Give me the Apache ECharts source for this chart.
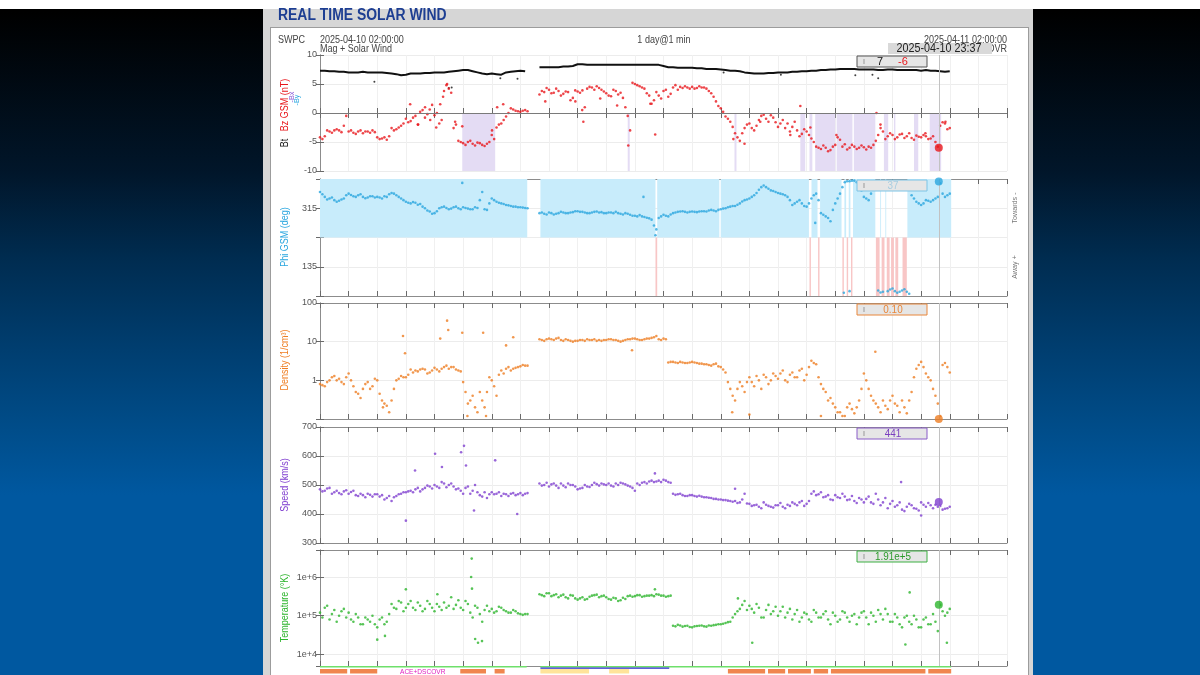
<!DOCTYPE html>
<html>
<head>
<meta charset="utf-8">
<script src="https://cdn.jsdelivr.net/npm/echarts@6/dist/echarts.min.js"></script>
<style>
html, body { margin: 0; padding: 0; width: 1200px; height: 675px; overflow: hidden; background: #000; }
body { position: relative; }
#bg { position: absolute; left: 0; top: 0; width: 1200px; height: 675px;
    background-image: linear-gradient(180deg, rgb(0,0,0) 0px, rgb(0,0,0) 12px, rgb(1,22,42) 172px, rgb(0,44,80) 258px, rgb(0,61,110) 344px, rgb(0,77,138) 430px, rgb(0,88,160) 495px, rgb(0,88,160) 675px); }
#topbar { position: absolute; left: 0; top: 0; width: 1200px; height: 9px; background: #fff; }
#panel { position: absolute; left: 263px; top: 9px; width: 770px; height: 666px; background: #d6d6d6; }
#sheet { position: absolute; left: 270px; top: 27px; width: 757px; height: 660px; background: #fff; border: 1px solid #9c9c9c; }
#chart { position: absolute; left: 0; top: 0; width: 1200px; height: 675px; }
</style>
</head>
<body>
<div id="bg"></div>
<div id="topbar"></div>
<div id="panel"></div>
<div id="sheet"></div>
<div id="chart"></div>
<script>
// samples every 10 minutes starting 2025-04-10 02:00 (x axis in hours from 02:00),
// *Mid arrays hold the samples 5 minutes later
const nowHour = 21.617 // 23:37
const btVals = [
    7.3, 7.3, 7.2, 7.2, 7.1, 7.1,
    7.0, 7.0, 7.0, 7.1, 7.0, 7.0,
    7.0, 7.0, 6.9, 6.8, 6.7, 6.5,
    6.6, 6.8, 6.8, 6.8, 6.9, 6.9,
    7.0, 7.0, 7.0, 7.1, 7.2, 7.3,
    7.4, 7.4, 7.2, 7.0, 6.8, 6.7,
    6.8, 6.7, 6.6, 7.0, 7.1, 7.2,
    7.3, 7.2, null, null, 7.9, 7.9,
    7.9, 7.9, 7.9, 8.0, 8.0, 8.1,
    8.4, 8.4, 8.3, 8.3, 8.3, 8.3,
    8.3, 8.3, 8.3, 8.3, 8.3, 8.3,
    8.3, 8.3, 8.3, 8.3, 8.3, 8.3,
    8.1, 7.9, 7.9, 7.8, 7.8, 7.8,
    7.8, 7.7, 7.7, 7.6, 7.6, 7.6,
    7.5, 7.4, 7.3, 7.3, 7.2, 7.0,
    6.9, 6.8, 6.8, 6.8, 6.9, 6.9,
    7.0, 7.0, 7.0, 7.1, 7.1, 7.2,
    7.2, 7.3, 7.3, 7.4, 7.4, 7.5,
    7.5, 7.6, 7.6, 7.6, 7.6, 7.5,
    7.5, 7.5, 7.5, 7.4, 7.4, 7.5,
    7.5, 7.4, 7.4, 7.4, 7.4, 7.4,
    7.3, 7.4, 7.3, 7.3, 7.2, 7.1,
    7.2
]
const btExtra = [[1.9, 5.4], [4.5, 4.3], [4.6, 4.4], [6.3, 6.0], [6.9, 5.9], [14.1, 7.0], [16.1, 6.6], [18.7, 6.5], [19.3, 6.6], [19.5, 6.0]]
const bzVals = [
    -4.2, -4.0, -3.2, -3.0, -3.0, -2.2,
    -3.2, -3.4, -3.2, -3.5, -3.2, -3.0,
    -4.2, -4.4, -4.6, -2.6, -2.8, -2.2,
    -1.0, -1.4, -0.5, 0.2, -0.8, 0.6,
    -0.4, -1.8, 3.8, 4.2, -2.6, -4.8,
    -5.2, -5.0, -5.3, -5.1, -5.5, -5.3,
    -3.8, -2.5, -1.8, -0.6, 0.8, 0.4,
    0.2, 0.5, null, null, 3.2, 3.6,
    4.0, 3.5, 3.8, 3.3, 3.6, 2.6,
    3.7, 3.9, 4.2, 4.4, 4.6, 4.0,
    3.4, 2.9, 3.8, 3.5, 1.0, -3.0,
    5.0, 4.6, 4.2, 3.0, 2.2, 3.0,
    3.8, 2.8, 4.4, 4.0, 4.3, 4.4,
    4.5, 4.3, 4.4, 4.2, 3.4, 2.0,
    0.8, -0.6, -1.5, -3.5, -4.8, -2.6,
    -1.8, -3.0, -1.2, -0.3, -1.5, -0.8,
    -2.4, -1.2, -1.8, -2.4, -3.0, -3.6,
    -3.2, -4.4, -5.8, -6.2, -6.0, -6.4,
    -5.5, -4.6, -5.4, -6.0, -5.8, -6.0,
    -5.9, -5.8, -5.5, -3.8, -3.2, -4.0,
    -3.8, -4.2, -3.6, -4.0, -4.3, -3.9,
    -4.2, -4.0, -4.4, -5.0, -2.2, -1.8,
    -2.6
]
const bzMid = [
    -4.5, -3.0, -3.4, -2.8, -3.3, -0.5,
    -3.0, -3.6, -3.0, -3.2, -3.4, -3.3,
    -4.5, -4.2, -4.0, -3.0, -2.5, -1.8,
    -1.6, -0.8, -2.0, 0.5, -0.2, 1.4,
    0.0, -1.2, 4.8, 3.5, -2.0, -5.0,
    -5.5, -4.8, -5.6, -5.2, -5.7, -5.0,
    -4.5, -2.0, -1.2, 0.0, 0.6, 0.3,
    0.4, 0.3, null, null, 3.8, 4.3,
    3.4, 4.2, 3.0, 3.7, 2.2, 3.9,
    3.5, 1.0, 4.5, 4.0, 4.3, 3.7,
    3.0, 4.0, 3.2, 2.6, -0.5, 5.2,
    4.8, 4.4, 3.4, 1.6, 3.6, 2.5,
    4.0, 3.3, 4.8, 4.5, 4.6, 4.2,
    4.2, 4.6, 4.4, 3.8, 2.8, 1.2,
    0.2, -1.0, -2.4, -4.2, -3.5, -2.0,
    -2.6, -2.2, -0.5, -1.0, -0.4, -1.6,
    -1.8, -2.6, -3.2, -1.5, -4.0, -2.8,
    -3.8, -5.0, -6.0, -5.6, -6.6, -5.8,
    -4.2, -5.8, -6.3, -5.5, -6.2, -5.6,
    -6.3, -6.0, -4.8, -2.6, -4.5, -3.5,
    -4.5, -3.7, -4.3, -3.5, -4.6, -4.1,
    -3.8, -4.5, -4.0, -5.8, -1.6, -2.8
]
const bzExtra = [
    [4.44, 5.0], [4.30, 2.8], [4.06, -2.5], [4.20, 1.5], [3.67, 1.0], [3.43, -2.0], [3.15, 1.5],
    [3.85, -1.2], [4.72, -1.5], [4.97, -2.3], [6.19, 1.0], [6.01, -3.0], [6.40, 1.5], [7.87, 2.0],
    [8.92, 2.0], [9.16, 0.5], [9.20, -1.5], [9.79, 2.5], [10.38, 1.3], [10.77, -5.6], [11.71, -3.7],
    [11.54, 1.6], [14.44, -4.5], [14.83, -5.3], [15.38, -1.5], [16.43, -3.8], [16.78, 1.2],
    [17.13, -2.5], [19.44, 0.0], [19.58, -2.0], [18.04, -3.8], [21.15, -3.5], [21.85, -1.5]
]
const bzShade = [
    [4.97, 6.12], [10.75, 10.82], [14.48, 14.55], [16.78, 16.95], [17.1, 17.2], [17.3, 18.0],
    [18.05, 18.6], [18.65, 19.4], [19.7, 19.85], [20.05, 20.1], [20.75, 20.9], [21.3, 21.7]
]
const phiVals = [
    365, 350, 345, 340, 338, 345,
    360, 352, 355, 350, 348, 352,
    350, 345, 350, 362, 355, 345,
    335, 330, 332, 328, 315, 305,
    300, 315, 320, 312, 318, 315,
    318, 314, 312, 316, 365, 310,
    345, 335, 330, 325, 322, 320,
    318, 316, null, null, 300, 298,
    302, 296, 300, 302, 300, 303,
    306, 304, 300, 302, 305, 303,
    300, 302, 304, 298, 300, 295,
    292, 294, 288, 284, 262, 285,
    295, 290, 300, 304, 306, 302,
    305, 303, 306, 305, 310, 306,
    312, 315, 320, 322, 330, 340,
    345, 355, 372, 385, 375, 368,
    362, 358, 350, 325, 335, 330,
    320, 345, 360, 300, 290, 275,
    330, 360, 395, 398, 400, 385,
    350, 340, 380, 62, 58, 60,
    68, 55, 62, 58, 355, 335,
    325, 340, 335, 345, 392, 350,
    360
]
const phiMid = [
    358, 342, 348, 335, 342, 355,
    356, 350, 358, 346, 352, 348,
    348, 352, 358, 360, 350, 340,
    332, 334, 326, 320, 308, 298,
    306, 318, 316, 314, 320, 312,
    316, 312, 318, 340, 312, 330,
    340, 332, 328, 324, 320, 318,
    317, 315, null, null, 302, 296,
    300, 298, 304, 300, 302, 306,
    304, 302, 300, 304, 302, 300,
    302, 300, 300, 296, 298, 292,
    290, 290, 286, 280, 250, 290,
    292, 296, 302, 305, 304, 304,
    304, 305, 306, 308, 308, 310,
    314, 318, 322, 326, 336, 342,
    350, 362, 380, 380, 370, 365,
    360, 355, 340, 330, 340, 322,
    330, 355, 340, 295, 285, 310,
    345, 380, 398, 400, 395, 370,
    345, 360, 395, 56, 392, 65,
    60, 58, 66, 52, 345, 330,
    330, 338, 340, 350, 360, 355
]
const phiExtra = [
    [11.72, 232], [4.97, 393], [11.3, 350], [17.3, 270], [19.8, 395], [20.3, 390], [18.3, 55], [18.5, 60]
]
const towardsBands = [
    [0, 7.24], [7.7, 11.72], [11.78, 13.95], [14.0, 17.08], [17.17, 17.38], [17.47, 18.22],
    [18.32, 18.38], [18.47, 18.53], [18.62, 19.4], [19.57, 19.6], [19.75, 19.78], [20.52, 22.05]
]
const awayBands = [
    [11.72, 11.78], [17.1, 17.15], [17.4, 17.45], [18.25, 18.3], [18.4, 18.45], [18.55, 18.6],
    [19.42, 19.55], [19.62, 19.72], [19.8, 19.9], [19.95, 20.05], [20.1, 20.2], [20.35, 20.5]
]
const densVals = [
    0.8, 0.7, 1.0, 1.3, 1.1, 0.8,
    1.5, 0.7, 0.45, 0.6, 0.9, 0.7,
    1.0, 0.3, 0.22, 0.3, 1.0, 1.3,
    1.2, 1.9, 1.8, 1.9, 1.9, 1.6,
    2.1, 1.7, 2.2, 2.0, 2.2, 1.8,
    0.9, 0.25, 0.4, 0.15, 0.3, 0.5,
    1.0, 0.4, 1.8, 2.0, 1.8, 2.1,
    2.3, 2.4, null, null, 11.5, 10.5,
    12.0, 11.0, 12.5, 10.5, 11.0, 10.0,
    10.5, 11.0, 11.5, 11.0, 10.5, 10.5,
    11.0, 11.5, 11.0, 10.0, 11.0, 11.5,
    12.0, 11.0, 11.5, 12.0, 13.0, 11.5,
    12.0, 2.9, 3.0, 2.8, 2.9, 2.8,
    3.0, 2.8, 2.7, 2.6, 2.4, 2.7,
    2.2, 1.6, 0.6, 0.3, 0.9, 0.5,
    1.2, 0.7, 1.0, 1.4, 0.8, 1.5,
    1.1, 1.8, 0.9, 1.6, 1.2, 2.0,
    1.4, 3.2, 2.6, 0.8, 0.5, 0.35,
    0.2, 0.15, 0.12, 0.25, 0.14, 0.3,
    1.5, 0.6, 0.3, 0.2, 0.3, 0.18,
    0.4, 0.22, 0.3, 0.14, 0.5, 2.0,
    3.0, 1.5, 1.0, 0.4, 0.12, 2.8,
    1.6
]
const densMid = [
    0.75, 0.9, 1.2, 1.0, 0.9, 1.2,
    1.0, 0.5, 0.35, 0.8, 0.6, 1.1,
    0.45, 0.25, 0.15, 0.6, 1.1, 1.2,
    1.4, 1.6, 1.7, 2.0, 1.5, 1.8,
    1.9, 2.0, 2.4, 2.2, 1.9, 1.7,
    0.5, 0.3, 0.2, 0.5, 0.2, 1.2,
    0.7, 1.4, 1.5, 2.2, 2.0, 2.2,
    2.5, 2.4, null, null, 11.0, 11.5,
    11.5, 12.0, 11.0, 11.5, 10.5, 10.5,
    11.0, 10.5, 11.0, 11.5, 11.0, 11.0,
    11.5, 11.0, 10.5, 10.5, 11.5, 12.0,
    11.5, 11.0, 12.0, 12.5, 14.0, 11.0,
    11.5, 3.0, 2.9, 3.0, 2.8, 2.9,
    2.9, 2.7, 2.6, 2.5, 2.6, 2.3,
    1.9, 0.9, 0.4, 0.6, 0.7, 0.9,
    0.9, 1.3, 0.6, 1.2, 1.0, 1.3,
    1.5, 1.0, 1.4, 1.2, 1.8, 1.0,
    2.2, 2.8, 1.2, 0.6, 0.3, 0.25,
    0.15, 0.12, 0.2, 0.18, 0.2, 0.6,
    1.0, 0.4, 0.25, 0.15, 0.22, 0.3,
    0.25, 0.15, 0.2, 0.3, 1.2, 2.5,
    2.2, 1.2, 0.6, 0.25, 2.5, 2.2
]
const densExtra = [
    [2.90, 14], [2.97, 5], [4.44, 35], [4.48, 20], [4.97, 17], [5.7, 17], [4.2, 12], [6.5, 8],
    [6.75, 13], [5.8, 0.12], [5.15, 0.12], [2.2, 0.2], [19.4, 5.5], [14.4, 0.15], [15.0, 0.13],
    [17.5, 0.12], [10.9, 6]
]
const speedVals = [
    485, 480, 490, 475, 472, 478,
    470, 480, 462, 465, 470, 460,
    468, 465, 455, 445, 462, 470,
    475, 480, 485, 478, 490, 495,
    500, 490, 505, 500, 495, 488,
    470, 495, 480, 475, 460, 455,
    475, 470, 462, 468, 470, 465,
    472, 470, null, null, 505, 500,
    495, 505, 490, 498, 505, 500,
    485, 490, 495, 500, 503, 505,
    500, 498, 505, 508, 502, 495,
    480, 500, 510, 512, 510, 515,
    518, 510, 470, 468, 465, 462,
    465, 460, 460, 458, 455, 452,
    450, 448, 445, 445, 440, 470,
    435, 430, 425, 440, 428, 422,
    430, 425, 432, 440, 430, 445,
    435, 470, 465, 475, 460, 450,
    465, 455, 460, 450, 445, 455,
    440, 460, 435, 450, 440, 420,
    445, 430, 415, 425, 430, 418,
    440, 425, 430, 432, 428, 418,
    425
]
const speedMid = [
    478, 488, 470, 480, 468, 482,
    476, 465, 470, 458, 466, 468,
    460, 450, 462, 458, 468, 475,
    478, 475, 490, 485, 498, 488,
    495, 510, 492, 505, 485, 480,
    490, 470, 500, 465, 475, 468,
    468, 475, 470, 462, 472, 468,
    465, 472, null, null, 498, 508,
    502, 498, 505, 492, 500, 495,
    488, 500, 493, 508, 498, 502,
    505, 495, 500, 505, 498, 490,
    505, 508, 505, 515, 512, 510,
    515, 508, 466, 470, 462, 465,
    462, 463, 458, 456, 452, 450,
    448, 446, 442, 438, 450, 436,
    428, 432, 420, 432, 425, 430,
    438, 420, 428, 435, 440, 428,
    445, 478, 468, 458, 465, 448,
    458, 470, 448, 462, 438, 450,
    452, 440, 470, 430, 455, 435,
    425, 440, 410, 435, 420, 412,
    432, 438, 420, 425, 415, 420
]
const speedExtra = [
    [3.0, 377], [3.32, 550], [4.02, 608], [4.26, 562], [4.93, 613], [5.03, 635], [5.1, 567],
    [5.38, 412], [6.12, 585], [6.89, 400], [11.7, 540], [20.3, 510], [14.5, 487], [21.0, 395]
]
const tempVals = [
    1.2e5, 1.6e5, 8e4, 1.4e5, 1.0e5, 1.5e5,
    1.2e5, 7e4, 9e4, 6e4, 8e4, 1.0e5,
    5e4, 9e4, 7e4, 2.0e5, 1.5e5, 2.2e5,
    1.6e5, 2.4e5, 1.4e5, 1.8e5, 1.5e5, 2.0e5,
    1.3e5, 1.7e5, 2.2e5, 1.8e5, 1.5e5, 2.5e5,
    1.4e5, 2.0e5, 9e4, 1.6e5, 7e4, 1.8e5,
    1.5e5, 1.3e5, 1.6e5, 1.3e5, 1.2e5, 1.3e5,
    1.1e5, 1.1e5, null, null, 3.6e5, 3.2e5,
    3.8e5, 3.4e5, 3.0e5, 3.5e5, 2.8e5, 3.3e5,
    2.6e5, 3.0e5, 2.7e5, 3.3e5, 3.5e5, 3.2e5,
    3.0e5, 2.6e5, 2.8e5, 2.5e5, 2.7e5, 3.3e5,
    3.2e5, 3.4e5, 3.2e5, 3.3e5, 3.2e5, 3.5e5,
    3.3e5, 3.2e5, 5.5e4, 5.8e4, 5.2e4, 5.5e4,
    5.0e4, 5.4e4, 5.6e4, 5.2e4, 5.5e4, 5.8e4,
    6.0e4, 6.5e4, 7e4, 1.1e5, 1.5e5, 2.4e5,
    1.8e5, 1.2e5, 1.6e5, 9e4, 1.9e5, 1.3e5,
    1.0e5, 1.7e5, 1.2e5, 8e4, 1.4e5, 9e4,
    1.1e5, 7e4, 1.2e5, 9e4, 1.3e5, 6e4,
    1.0e5, 8e4, 1.2e5, 7e4, 1.1e5, 9e4,
    1.3e5, 6e4, 1.0e5, 1.4e5, 8e4, 1.1e5,
    7e4, 9e4, 5e4, 1.0e5, 6e4, 8e4,
    5e4, 9e4, 6e4, 7e4, 1.9e5, 1.0e5,
    1.5e5
]
const tempMid = [
    9e4, 1.8e5, 1.1e5, 7e4, 1.3e5, 9e4,
    8e4, 1.1e5, 6e4, 9e4, 7e4, 6e4,
    8e4, 6e4, 1.1e5, 1.6e5, 2.4e5, 1.3e5,
    2.0e5, 1.6e5, 2.2e5, 1.3e5, 2.4e5, 1.6e5,
    2.0e5, 1.4e5, 1.6e5, 3.0e5, 1.9e5, 1.6e5,
    2.4e5, 1.2e5, 1.8e5, 1.1e5, 1.4e5, 1.3e5,
    1.2e5, 1.7e5, 1.4e5, 1.2e5, 1.4e5, 1.15e5,
    1.05e5, 1.1e5, null, null, 3.4e5, 3.8e5,
    3.2e5, 3.6e5, 3.3e5, 3.0e5, 3.4e5, 2.8e5,
    2.8e5, 2.6e5, 3.1e5, 3.4e5, 3.0e5, 3.3e5,
    2.7e5, 2.9e5, 2.4e5, 2.9e5, 3.2e5, 3.1e5,
    3.4e5, 3.1e5, 3.3e5, 3.4e5, 3.6e5, 3.3e5,
    3.1e5, 3.3e5, 5.3e4, 5.6e4, 5.4e4, 5.1e4,
    5.3e4, 5.5e4, 5.3e4, 5.6e4, 5.7e4, 6.0e4,
    6.2e4, 6.8e4, 9e4, 1.3e5, 1.9e5, 1.4e5,
    1.5e5, 2.0e5, 9e4, 1.4e5, 1.1e5, 1.7e5,
    1.3e5, 9e4, 1.5e5, 1.1e5, 7e4, 1.2e5,
    8e4, 1.4e5, 9e4, 1.1e5, 8e4, 1.2e5,
    7e4, 1.3e5, 9e4, 1.0e5, 6e4, 1.2e5,
    9e4, 1.2e5, 7e4, 1.1e5, 1.5e5, 7e4,
    1.1e5, 6e4, 9e4, 7e4, 1.0e5, 5e4,
    8e4, 6e4, 1.1e5, 4e4, 1.3e5, 1.2e5
]
const tempExtra = [
    [5.28, 1e6], [5.31, 5e5], [5.3, 3e6], [3.0, 4.8e5], [4.1, 3.6e5], [5.42, 2.5e4], [5.52, 2e4],
    [5.66, 2.2e4], [2.0, 2.4e4], [2.27, 3e4], [11.7, 4.8e5], [20.6, 4e5], [20.45, 1.8e4],
    [21.9, 2e4], [15.1, 2e4], [14.6, 2.8e5]
]
// current readings at 23:37
const nowBt = 7
const nowBz = -6
const nowPhi = 37
const nowDens = 0.10
const nowSpeed = 441
const nowTemp = 1.91e5
const nowLabels = ['37', '0.10', '441', '1.91e+5']
// source / status strip under the plots
const stripGreen = [[0, 7.22], [7.7, 22.05]]
const stripBlue = [[7.7, 12.2]]
const stripOrange = [[0, 0.95], [1.05, 2.0], [4.9, 5.8], [6.1, 6.45], [14.25, 15.55], [15.65, 16.25],
    [16.35, 17.15], [17.25, 17.75], [17.85, 21.15], [21.25, 22.05]]
const stripYellow = [[7.7, 9.4], [10.1, 10.8]]

const colors = {
    bt: '#111111', bz: '#e8161b', phi: '#2aa6df', dens: '#ee7d22', speed: '#8040d0', temp: '#2db52d'
}
const fontFam = "'Liberation Sans', Arial, sans-serif"
const gridTops = [55, 179, 303, 427, 550, 666]
const gridHeights = [116, 117, 116, 116, 116, 12]
const dotSize = 2.6

function pairs(vals, offset) {
    const out = []
    vals.forEach((v, i) => { if (v !== null) out.push([i / 6 + (offset || 0), v]) })
    return out
}
function isDecade(v) {
    const e = Math.log10(v)
    return Math.abs(e - Math.round(e)) < 1e-6
}
function bands(list, y0, y1, color) {
    return list.map(([a, b]) => [{ xAxis: a, yAxis: y0, itemStyle: { color: color } }, { xAxis: b, yAxis: y1 }])
}
const nowLine = {
    symbol: 'none', silent: true, label: { show: false },
    lineStyle: { color: '#c2c2c2', width: 1, type: 'solid' },
    data: [{ xAxis: nowHour }]
}

let chart = echarts.init(document.getElementById('chart'))

const grids = gridTops.map((t, i) => ({ left: 320, width: 687, top: t, height: gridHeights[i] }))
const xAxes = []
gridTops.forEach((t, i) => {
    const base = {
        gridIndex: i, type: 'value', min: 0, max: 24, interval: 1, show: i !== 5,
        axisLine: { lineStyle: { color: '#8c8c8c' } },
        axisTick: { inside: true, length: 5, lineStyle: { color: '#6a6a6a' } },
        axisLabel: { show: false }
    }
    xAxes.push(Object.assign({}, base, { position: 'bottom', splitLine: { show: true, lineStyle: { color: '#f0f0f0' } } }))
    xAxes.push(Object.assign({}, base, { position: 'top', splitLine: { show: false } }))
})
const labelStyle = { fontSize: 9, color: '#555', margin: 3, fontFamily: fontFam }
const leftY = [
    { type: 'value', min: -10, max: 10, interval: 5 },
    { type: 'value', min: 45, max: 405, interval: 90, axisLabel: Object.assign({}, labelStyle, { formatter: v => (v === 135 || v === 315) ? String(v) : '' }) },
    { type: 'log', min: 0.1, max: 100, logBase: 10, axisLabel: Object.assign({}, labelStyle, { formatter: v => (isDecade(v) && v >= 1) ? String(Math.round(v)) : '' }) },
    { type: 'value', min: 300, max: 700, interval: 100 },
    { type: 'log', min: 5000, max: 5000000, logBase: 10, splitNumber: 3, axisLabel: Object.assign({}, labelStyle, { formatter: v => isDecade(v) ? '1e+' + Math.round(Math.log10(v)) : '' }) },
    { type: 'value', min: 0, max: 12, show: false }
]
const yAxes = []
leftY.forEach((cfg, i) => {
    yAxes.push(Object.assign({
        gridIndex: i, position: 'left',
        axisLine: { show: true, lineStyle: { color: '#8c8c8c' } },
        axisTick: { show: true, inside: true, length: 4, lineStyle: { color: '#6a6a6a' } },
        axisLabel: labelStyle,
        splitLine: { show: true, lineStyle: { color: '#ececec' } }
    }, cfg))
    yAxes.push(Object.assign({}, cfg, {
        gridIndex: i, position: 'right',
        axisLine: { show: true, lineStyle: { color: '#8c8c8c' } },
        axisTick: { show: true, inside: true, length: 4, lineStyle: { color: '#6a6a6a' } },
        axisLabel: { show: false }, splitLine: { show: false }
    }))
})

function ax(i) { return { xAxisIndex: 2 * i, yAxisIndex: 2 * i } }
function dots(i, data, color, size) {
    return Object.assign({ type: 'scatter', data: data, symbolSize: size || dotSize, itemStyle: { color: color }, silent: true, z: 4 }, ax(i))
}
function nowDot(i, v, color) {
    return Object.assign({ type: 'scatter', data: [[nowHour, v]], symbolSize: 8, itemStyle: { color: color }, silent: true, z: 5 }, ax(i))
}

const series = [
    // panel 1: Bt / Bz
    Object.assign({
        type: 'line', data: [], z: 1,
        markArea: { silent: true, data: bands(bzShade, 0, -10, '#e4dcf4') },
        markLine: {
            symbol: 'none', silent: true, label: { show: false },
            data: [{ yAxis: 0, lineStyle: { color: '#7a7a7a', width: 1, type: 'solid' } },
                { xAxis: nowHour, lineStyle: { color: '#c2c2c2', width: 1, type: 'solid' } }]
        }
    }, ax(0)),
    Object.assign({
        type: 'line', data: btVals.map((v, i) => [i / 6, v === null ? '-' : v]), showSymbol: false,
        lineStyle: { color: colors.bt, width: 2 }, silent: true, z: 3
    }, ax(0)),
    dots(0, btExtra, colors.bt, 2),
    dots(0, pairs(bzVals).concat(pairs(bzMid, 1 / 12), bzExtra), colors.bz),
    nowDot(0, nowBz, colors.bz),
    // panel 2: Phi
    Object.assign({
        type: 'line', data: [], z: 1,
        markArea: { silent: true, data: bands(towardsBands, 225, 405, '#c8ecfb').concat(bands(awayBands, 45, 225, '#f8c6c6')) },
        markLine: nowLine
    }, ax(1)),
    dots(1, pairs(phiVals).concat(pairs(phiMid, 1 / 12), phiExtra), colors.phi),
    nowDot(1, nowPhi < 45 ? nowPhi + 360 : nowPhi, colors.phi),
    // panel 3: Density
    Object.assign({ type: 'line', data: [], markLine: nowLine }, ax(2)),
    dots(2, pairs(densVals).concat(pairs(densMid, 1 / 12), densExtra), colors.dens),
    nowDot(2, nowDens, colors.dens),
    // panel 4: Speed
    Object.assign({ type: 'line', data: [], markLine: nowLine }, ax(3)),
    dots(3, pairs(speedVals).concat(pairs(speedMid, 1 / 12), speedExtra), colors.speed),
    nowDot(3, nowSpeed, colors.speed),
    // panel 5: Temperature
    Object.assign({ type: 'line', data: [], markLine: nowLine }, ax(4)),
    dots(4, pairs(tempVals).concat(pairs(tempMid, 1 / 12), tempExtra), colors.temp),
    nowDot(4, nowTemp, colors.temp),
    // status strip
    Object.assign({
        type: 'line', data: [], silent: true,
        markArea: {
            silent: true,
            data: bands(stripGreen, 10, 12, '#6ee06a')
                .concat(bands(stripBlue, 8.5, 10, '#2b2bd0'))
                .concat(bands(stripOrange, 2, 8, '#f0864e'))
                .concat(bands(stripYellow, 2, 8, '#ffe49a'))
        }
    }, ax(5))
]

// texts drawn around the plots (scaleX narrows them like the original condensed face)
function txt(x, y, text, opt, sx, z) {
    return {
        type: 'text', x: x, y: y, silent: true, z: z || 10, scaleX: sx || 0.82,
        style: Object.assign({ text: text, fill: '#444', font: '11px ' + fontFam, textAlign: 'left', textVerticalAlign: 'middle' }, opt || {})
    }
}
function vtxt(x, y, text, opt, sx) {
    const t = txt(x, y, text, Object.assign({ textAlign: 'center' }, opt || {}), sx || 0.9)
    t.rotation = Math.PI / 2
    return t
}
function valueBox(i, stroke) {
    const top = gridTops[i] + 1
    return [
        { type: 'rect', silent: true, z: 9, shape: { x: 857, y: top, width: 70, height: 11 }, style: { fill: '#e6e6e6', stroke: stroke, lineWidth: 1 } },
        { type: 'line', silent: true, z: 10, shape: { x1: 864, y1: top + 3, x2: 864, y2: top + 8 }, style: { stroke: '#999', lineWidth: 1 } }
    ]
}
const boxColors = ['#555555', '#7cc4e6', '#e8863a', '#8a5cc8', '#3cb043']
const boxText = ['#a8cde0', '#e8863a', '#7a3fc0', '#2a9a2a']
let graphics = [
    txt(278, 16, 'REAL TIME SOLAR WIND', { fill: '#1d3e92', font: 'bold 16px ' + fontFam }, 0.87),
    txt(278, 40, 'SWPC'),
    txt(320, 40, '2025-04-10 02:00:00'),
    txt(320, 49, 'Mag + Solar Wind'),
    txt(664, 40, '1 day@1 min', { textAlign: 'center' }),
    txt(1007, 40, '2025-04-11 02:00:00', { textAlign: 'right' }),
    txt(1007, 49, 'DSCOVR', { textAlign: 'right' }, 0.82, 8),
    { type: 'rect', silent: true, z: 9, shape: { x: 888, y: 43, width: 104, height: 11 }, style: { fill: '#d9d9d9' } },
    txt(939, 49, '2025-04-10 23:37', { textAlign: 'center', fill: '#222', font: '12.5px ' + fontFam }, 0.86),
    vtxt(285, 113, '{k|Bt}   {r|Bz GSM (nT)}', {
        font: '10px ' + fontFam,
        rich: { k: { fill: '#111', color: '#111', font: '10px ' + fontFam }, r: { fill: colors.bz, color: colors.bz, font: '10px ' + fontFam } }
    }),
    vtxt(292, 97, '-Bx', { fill: '#8a5cd8', font: '8px ' + fontFam }),
    vtxt(297, 100, '-By', { fill: colors.phi, font: '8px ' + fontFam }),
    vtxt(285, 237, 'Phi GSM (deg)', { fill: colors.phi, font: '10px ' + fontFam }),
    vtxt(285, 360, 'Density (1/cm\u00b3)', { fill: colors.dens, font: '10px ' + fontFam }),
    vtxt(285, 485, 'Speed (km/s)', { fill: colors.speed, font: '10px ' + fontFam }),
    vtxt(285, 608, 'Temperature (\u00b0K)', { fill: colors.temp, font: '10px ' + fontFam }),
    vtxt(1015, 208, 'Towards -', { fill: '#777', font: '8px ' + fontFam }),
    vtxt(1015, 267, 'Away +', { fill: '#777', font: '8px ' + fontFam }),
    txt(400, 672, 'ACE+DSCOVR', { fill: '#e020c0', font: '8px ' + fontFam })
]
boxColors.forEach((c, i) => { graphics = graphics.concat(valueBox(i, c)) })
graphics.push(txt(880, gridTops[0] + 6.5, String(nowBt), { textAlign: 'center', fill: '#111', font: '11px ' + fontFam }, 1))
graphics.push(txt(903, gridTops[0] + 6.5, String(nowBz), { textAlign: 'center', fill: colors.bz, font: '11px ' + fontFam }, 1))
nowLabels.forEach((s, k) => {
    graphics.push(txt(893, gridTops[k + 1] + 6.5, s, { textAlign: 'center', fill: boxText[k], font: '11px ' + fontFam }, 0.9))
})

chart.setOption({
    animation: false,
    grid: grids,
    xAxis: xAxes,
    yAxis: yAxes,
    series: series,
    graphic: graphics
})
</script>
</body>
</html>
